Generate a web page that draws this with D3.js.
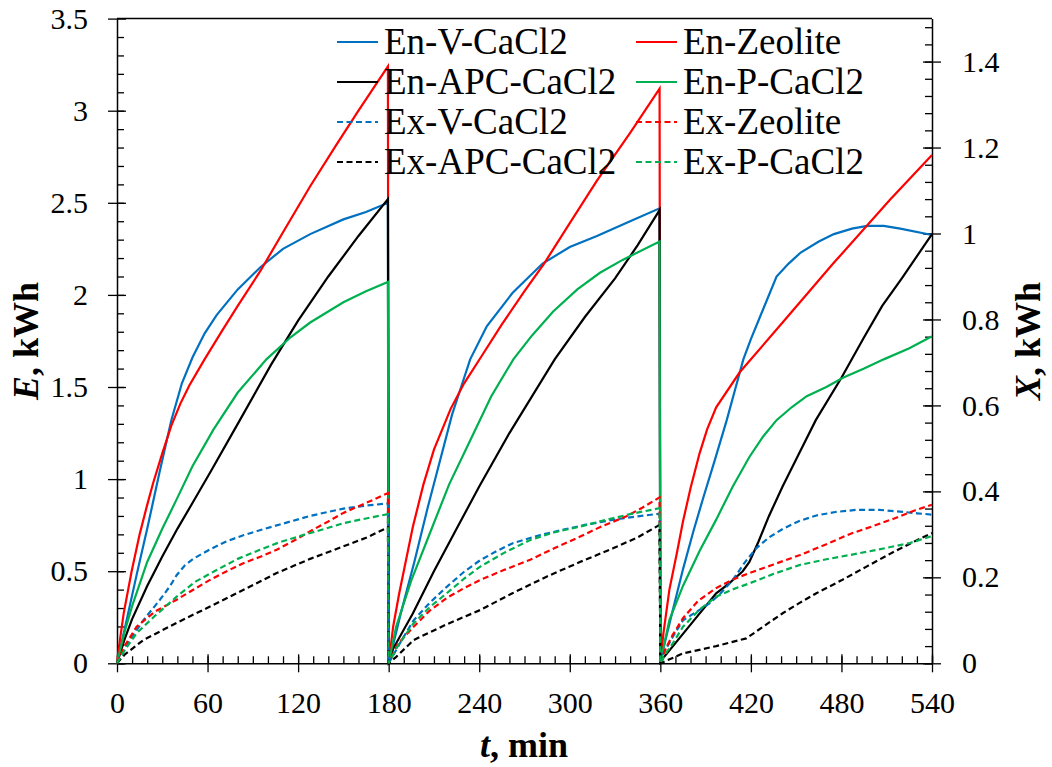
<!DOCTYPE html>
<html>
<head>
<meta charset="utf-8">
<script src="https://cdn.jsdelivr.net/npm/d3@7"></script>
<style>
  body { margin: 0; background: #fff; }
  svg { font-family: "Liberation Serif", "Times New Roman", serif; }
</style>
</head>
<body>
<div id="chart"></div>
<script>
// energy (left axis, kWh) and exergy (right axis, kWh) vs time in min, 3 cycles
const enV = [[0,0],[6,0.22],[13,0.48],[20,0.73],[28,1.03],[36,1.32],[43,1.52],[50,1.66],[58,1.79],[66,1.89],[80,2.03],[95,2.15],[110,2.25],[128,2.33],[150,2.41],[165,2.45],[179.5,2.5],[180,0],
  [188,0.27],[197,0.55],[206,0.85],[214,1.1],[222,1.35],[228,1.5],[234,1.65],[245,1.83],[262,2.01],[282,2.17],[300,2.26],[318,2.32],[340,2.4],[359.5,2.47],[360,0],
  [362,0.08],[368,0.28],[375,0.51],[382,0.72],[388.5,0.9],[396,1.1],[404,1.32],[410,1.5],[415,1.65],[420,1.76],[426,1.88],[437,2.1],[445,2.17],[453,2.23],[465,2.29],[475,2.33],[487,2.36],[497,2.375],[508,2.375],[519,2.36],[540,2.325]];
const enZeolite = [[0,0],[2,0.13],[4.4,0.27],[9.7,0.5],[15,0.7],[20,0.86],[24,0.98],[30,1.14],[36,1.29],[42,1.41],[48,1.51],[58,1.65],[70,1.81],[80,1.94],[95,2.13],[110,2.34],[128,2.59],[145,2.81],[160,3.0],[179.5,3.24],[180,0],
  [183,0.2],[187,0.38],[191,0.54],[196,0.74],[203,0.97],[210,1.16],[221,1.38],[230,1.52],[241,1.66],[255,1.84],[270,2.02],[283,2.17],[300,2.39],[318,2.62],[340,2.88],[359.5,3.12],[360,0],
  [362,0.16],[366,0.4],[371,0.6],[375,0.77],[380,0.95],[386,1.14],[391,1.27],[397,1.39],[412.6,1.58],[441,1.85],[474.5,2.17],[512,2.515],[540,2.76]];
const enAPC = [[0,0],[5,0.13],[10,0.24],[20,0.42],[30,0.58],[40,0.73],[50,0.87],[62,1.04],[80,1.3],[102,1.62],[120,1.86],[140,2.1],[160,2.32],[179.5,2.52],[180,0],
  [183,0.08],[196,0.27],[210,0.5],[225,0.73],[240,0.96],[260,1.25],[290,1.65],[310,1.88],[330,2.09],[345,2.27],[359.5,2.46],[360,0],
  [362,0.03],[375,0.16],[385,0.26],[397,0.38],[405,0.43],[414.6,0.5],[419,0.55],[425,0.66],[432,0.8],[441,0.96],[452,1.14],[463,1.32],[480,1.55],[495,1.77],[507,1.94],[520,2.09],[540,2.33]];
const enP = [[0,0],[5,0.17],[10,0.31],[20,0.55],[30,0.73],[39.5,0.89],[50,1.07],[64,1.27],[80,1.47],[99,1.65],[115,1.77],[128,1.85],[150,1.96],[165,2.02],[179.5,2.07],[180,0],
  [185,0.2],[195,0.45],[207.5,0.71],[220,0.97],[234,1.21],[248,1.45],[262.6,1.65],[275,1.78],[289,1.91],[305,2.03],[320,2.12],[335,2.19],[359.5,2.29],[360,0],
  [363,0.12],[366,0.235],[375,0.42],[386,0.61],[397,0.78],[408,0.96],[419,1.12],[428,1.23],[437,1.32],[447,1.39],[457,1.45],[470,1.5],[481,1.55],[495,1.6],[508,1.65],[525,1.71],[540,1.775]];

const exV = [[0,0],[8.6,0.054],[17.4,0.1],[28.5,0.148],[35,0.179],[39.5,0.205],[45,0.228],[50.5,0.243],[57,0.256],[61.6,0.265],[72,0.283],[83.7,0.298],[95,0.31],[110,0.325],[128,0.343],[150,0.36],[165,0.367],[179.5,0.372],[180,0],
  [188,0.05],[196.5,0.1],[207,0.14],[218.5,0.178],[230,0.213],[240.7,0.24],[252,0.262],[262.6,0.28],[280,0.298],[295.8,0.311],[310,0.322],[329,0.334],[345,0.342],[359.5,0.348],[360,0],
  [362,0.023],[368,0.06],[375,0.1],[384,0.12],[392.8,0.14],[400,0.163],[408,0.194],[416,0.235],[423.7,0.268],[432,0.293],[441.3,0.313],[452,0.331],[463.4,0.344],[476,0.352],[490,0.357],[505,0.357],[518.7,0.353],[530,0.349],[540,0.346]];
const exZeolite = [[0,0],[5,0.04],[13,0.085],[25,0.12],[39.5,0.148],[50,0.17],[61.6,0.194],[72,0.213],[83.7,0.233],[95,0.248],[105.8,0.264],[117,0.285],[127.8,0.307],[140,0.33],[150,0.35],[165,0.373],[179.5,0.396],[180,0],
  [186,0.045],[196.5,0.085],[207,0.122],[218.5,0.152],[230,0.175],[240.7,0.194],[257,0.218],[273.8,0.241],[290,0.268],[306.9,0.295],[322,0.32],[337.6,0.342],[348,0.362],[359.5,0.386],[360,0],
  [363,0.03],[368,0.065],[375,0.105],[385,0.145],[397,0.175],[408,0.195],[419,0.21],[435,0.23],[452.6,0.252],[470,0.277],[485.7,0.301],[500,0.318],[515,0.337],[528,0.355],[540,0.369]];
const exAPC = [[0,0],[5,0.02],[17.4,0.054],[40,0.095],[61.6,0.132],[85,0.173],[105.8,0.21],[128,0.243],[150,0.272],[165,0.292],[179.5,0.316],[180,0],
  [185,0.015],[196.5,0.054],[218,0.09],[240.7,0.124],[262,0.163],[284.9,0.202],[307,0.236],[329,0.268],[345,0.293],[359.5,0.322],[360,0],
  [375,0.023],[397,0.04],[417,0.058],[428,0.085],[441.3,0.117],[452,0.14],[463.4,0.163],[480,0.193],[496.6,0.225],[515,0.26],[528,0.283],[540,0.303]];
const exP = [[0,0],[5,0.03],[13,0.07],[25,0.11],[39.5,0.155],[52,0.19],[66,0.217],[80,0.243],[94.7,0.264],[108,0.282],[121,0.296],[135,0.31],[150,0.326],[165,0.337],[179.5,0.347],[180,0],
  [186,0.04],[196.5,0.093],[207,0.13],[218.5,0.163],[230,0.197],[240.7,0.225],[257,0.258],[273.8,0.287],[290,0.305],[306.9,0.318],[322,0.332],[340,0.347],[359.5,0.361],[360,0],
  [363,0.02],[368,0.045],[375,0.085],[386,0.125],[397,0.155],[408,0.172],[419,0.186],[435,0.208],[452.6,0.229],[470,0.242],[485.7,0.252],[505,0.265],[525.5,0.28],[540,0.296]];

const xTicks = [0, 60, 120, 180, 240, 300, 360, 420, 480, 540];
const leftTicks = [0, 0.5, 1, 1.5, 2, 2.5, 3, 3.5];
const rightTicks = [0, 0.2, 0.4, 0.6, 0.8, 1, 1.2, 1.4];

const series = [
  { name: "En-V-CaCl2", data: enV, color: "#0070C0", axis: "L", dash: null },
  { name: "En-Zeolite", data: enZeolite, color: "#FF0000", axis: "L", dash: null },
  { name: "En-APC-CaCl2", data: enAPC, color: "#000000", axis: "L", dash: null },
  { name: "En-P-CaCl2", data: enP, color: "#00B050", axis: "L", dash: null },
  { name: "Ex-V-CaCl2", data: exV, color: "#0070C0", axis: "R", dash: "6,3.5" },
  { name: "Ex-Zeolite", data: exZeolite, color: "#FF0000", axis: "R", dash: "6,3.5" },
  { name: "Ex-APC-CaCl2", data: exAPC, color: "#000000", axis: "R", dash: "6,3.5" },
  { name: "Ex-P-CaCl2", data: exP, color: "#00B050", axis: "R", dash: "6,3.5" }
];

const W = 1052, H = 767;
const pLeft = 117, pRight = 932, pTop = 18.6, pBottom = 663.3;

const svg = d3.select("#chart").append("svg")
  .attr("width", W)
  .attr("height", H);

const x = d3.scaleLinear().domain([0, 540]).range([pLeft, pRight]);
const yL = d3.scaleLinear().domain([0, 3.5]).range([pBottom, pTop]);
const yR = d3.scaleLinear().domain([0, 1.5]).range([pBottom, pTop]);

const fmt = d => String(+d.toFixed(2));

// frame top line
svg.append("line")
  .attr("x1", pLeft).attr("x2", pRight)
  .attr("y1", pTop).attr("y2", pTop)
  .attr("stroke", "#000").attr("stroke-width", 1.5);

// minor ticks (inward)
svg.append("g").attr("transform", `translate(${pLeft},0)`)
  .call(d3.axisLeft(yL).tickValues(d3.range(0, 3.5, 0.1)).tickSize(-7).tickFormat(""))
  .call(g => g.select(".domain").remove());
svg.append("g").attr("transform", `translate(${pRight},0)`)
  .call(d3.axisRight(yR).tickValues(d3.range(0, 1.5, 0.04)).tickSize(-7).tickFormat(""))
  .call(g => g.select(".domain").remove());
svg.append("g").attr("transform", `translate(0,${pBottom})`)
  .call(d3.axisBottom(x).tickValues(d3.range(0, 541, 10)).tickSize(-7).tickFormat(""))
  .call(g => g.select(".domain").remove());

// major axes
const axL = svg.append("g").attr("transform", `translate(${pLeft},0)`)
  .call(d3.axisLeft(yL).tickValues(leftTicks).tickSize(9).tickPadding(20).tickSizeOuter(0).tickFormat(fmt));
axL.selectAll(".tick line").attr("x1", 9);

const axR = svg.append("g").attr("transform", `translate(${pRight},0)`)
  .call(d3.axisRight(yR).tickValues(rightTicks).tickSize(9).tickPadding(21).tickSizeOuter(0).tickFormat(fmt));
axR.selectAll(".tick line").attr("x1", -9);

const axB = svg.append("g").attr("transform", `translate(0,${pBottom})`)
  .call(d3.axisBottom(x).tickValues(xTicks).tickSize(9).tickPadding(19).tickSizeOuter(0).tickFormat(fmt));
axB.selectAll(".tick line").attr("y1", -9);

svg.selectAll(".domain").attr("stroke-width", 1.5);
svg.selectAll(".tick line").attr("stroke-width", 1.3);
svg.selectAll(".tick text")
  .attr("font-family", "Liberation Serif, serif")
  .attr("font-size", 30)
  .attr("fill", "#000");

// lines
const plot = svg.append("g");
series.forEach(s => {
  const yS = s.axis === "L" ? yL : yR;
  const line = d3.line().x(d => x(d[0])).y(d => yS(d[1]));
  plot.append("path")
    .datum(s.data)
    .attr("fill", "none")
    .attr("stroke", s.color)
    .attr("stroke-width", 2.2)
    .attr("stroke-dasharray", s.dash)
    .attr("d", line);
});

// legend
const legX = [337, 636];
const legY = [42, 82, 122, 162];
const leg = svg.append("g");
series.forEach((s, i) => {
  const col = i % 2, row = Math.floor(i / 2);
  const lx = legX[col], ly = legY[row];
  leg.append("line")
    .attr("x1", lx).attr("x2", lx + 41)
    .attr("y1", ly).attr("y2", ly)
    .attr("stroke", s.color)
    .attr("stroke-width", 2.2)
    .attr("stroke-dasharray", s.dash);
  leg.append("text")
    .attr("x", lx + 47).attr("y", ly + 12)
    .attr("font-size", 37)
    .text(s.name);
});

// axis titles
const tx = svg.append("text")
  .attr("x", 524).attr("y", 757)
  .attr("text-anchor", "middle")
  .attr("font-size", 36)
  .attr("font-weight", "bold");
tx.append("tspan").attr("font-style", "italic").text("t");
tx.append("tspan").text(", min");

const tl = svg.append("text")
  .attr("transform", "translate(38,341) rotate(-90)")
  .attr("text-anchor", "middle")
  .attr("font-size", 36)
  .attr("font-weight", "bold");
tl.append("tspan").attr("font-style", "italic").text("E");
tl.append("tspan").text(", kWh");

const tr = svg.append("text")
  .attr("transform", "translate(1040,341) rotate(-90)")
  .attr("text-anchor", "middle")
  .attr("font-size", 36)
  .attr("font-weight", "bold");
tr.append("tspan").attr("font-style", "italic").text("X");
tr.append("tspan").text(", kWh");
</script>
</body>
</html>
